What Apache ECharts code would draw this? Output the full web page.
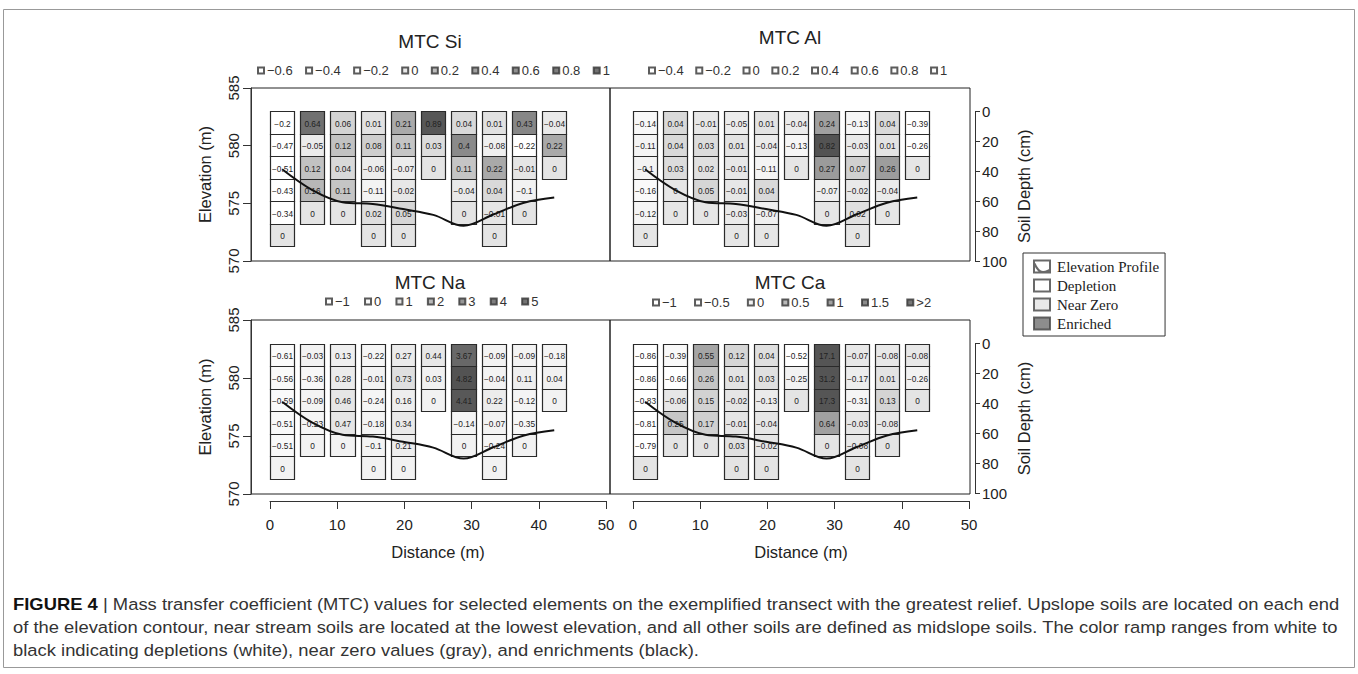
<!DOCTYPE html>
<html><head><meta charset="utf-8">
<script src="https://cdn.jsdelivr.net/npm/echarts@6/dist/echarts.min.js"></script>
<style>html,body{margin:0;padding:0;background:#fff}#c{width:1358px;height:674px}</style>
</head><body><div id="c"></div>
<script>
// ---------------- DATA ----------------
const distances = [1.8, 6.3, 10.8, 15.3, 19.8, 24.3, 28.8, 33.3, 37.8, 42.3];          // soil pit centres (m)
const elevation = [577.95, 576.15, 575.1, 574.95, 574.5, 574.0, 573.05, 574.05, 575.05, 575.5]; // m
const horizonTops = [0, 15, 30, 45, 60, 75];                                              // cm

const mtcSi = [
  [-0.2, -0.47, -0.51, -0.43, -0.34, 0],
  [0.64, -0.05, 0.12, 0.16, 0],
  [0.06, 0.12, 0.04, 0.11, 0],
  [0.01, 0.08, -0.06, -0.11, 0.02, 0],
  [0.21, 0.11, -0.07, -0.02, 0.05, 0],
  [0.89, 0.03, 0],
  [0.04, 0.4, 0.11, -0.04, 0],
  [0.01, -0.08, 0.22, 0.04, -0.01, 0],
  [0.43, -0.22, -0.01, -0.1, 0],
  [-0.04, 0.22, 0]
];
const mtcAl = [
  [-0.14, -0.11, -0.1, -0.16, -0.12, 0],
  [0.04, 0.04, 0.03, 0, 0],
  [-0.01, 0.03, 0.02, 0.05, 0],
  [-0.05, 0.01, -0.01, -0.01, -0.03, 0],
  [0.01, -0.04, -0.11, 0.04, -0.07, 0],
  [-0.04, -0.13, 0],
  [0.24, 0.82, 0.27, -0.07, 0],
  [-0.13, -0.03, 0.07, -0.02, 0.02, 0],
  [0.04, 0.01, 0.26, -0.04, 0],
  [-0.39, -0.26, 0]
];
const mtcNa = [
  [-0.61, -0.56, -0.59, -0.51, -0.51, 0],
  [-0.03, -0.36, -0.09, -0.23, 0],
  [0.13, 0.28, 0.46, 0.47, 0],
  [-0.22, -0.01, -0.24, -0.18, -0.1, 0],
  [0.27, 0.73, 0.16, 0.34, 0.21, 0],
  [0.44, 0.03, 0],
  [3.67, 4.82, 4.41, -0.14, 0],
  [-0.09, -0.04, 0.22, -0.07, -0.24, 0],
  [-0.09, 0.11, -0.12, -0.35, 0],
  [-0.18, 0.04, 0]
];
const mtcCa = [
  [-0.86, -0.86, -0.83, -0.81, -0.79, 0],
  [-0.39, -0.66, -0.06, 0.25, 0],
  [0.55, 0.26, 0.15, 0.17, 0],
  [0.12, 0.01, -0.02, -0.01, 0.03, 0],
  [0.04, 0.03, -0.13, -0.04, -0.02, 0],
  [-0.52, -0.25, 0],
  [17.1, 31.2, 17.3, 0.64, 0],
  [-0.07, -0.17, -0.31, -0.03, -0.08, 0],
  [-0.08, 0.01, 0.13, -0.08, 0],
  [-0.08, -0.26, 0]
];

const legendSi = ['\u22120.6', '\u22120.4', '\u22120.2', '0', '0.2', '0.4', '0.6', '0.8', '1'];
const legendAl = ['\u22120.4', '\u22120.2', '0', '0.2', '0.4', '0.6', '0.8', '1'];
const legendNa = ['\u22121', '0', '1', '2', '3', '4', '5'];
const legendCa = ['\u22121', '\u22120.5', '0', '0.5', '1', '1.5', '>2'];
const classLabels = ['Elevation Profile', 'Depletion', 'Near Zero', 'Enriched'];

const elevTicks = {min: 570, max: 585, interval: 5};
const depthTicks = {min: 0, max: 100, interval: 20};
const distTicks = {min: 0, max: 50, interval: 10};

const captionLines = [
  ['FIGURE 4', ' | Mass transfer coefficient (MTC) values for selected elements on the exemplified transect with the greatest relief. Upslope soils are located on each end'],
  ['', 'of the elevation contour, near stream soils are located at the lowest elevation, and all other soils are defined as midslope soils. The color ramp ranges from white to'],
  ['', 'black indicating depletions (white), near zero values (gray), and enrichments (black).']
];

// ---------------- STYLE / LAYOUT ----------------
const FONT = 'Liberation Sans, Arial, Helvetica, sans-serif';
const INK = '#222';
const CELL_HALF_WIDTH = 1.8;   // m
const HORIZON_THICKNESS = 15;  // cm

const panels = [
  {key: 'Si', title: 'MTC Si', values: mtcSi, tx: 430, ty: 32,
   grid: {left: 251, top: 88, width: 359, height: 173}, xr: [-2.83, 50.6], showElev: true,
   vmin: -0.2, vmax: 1.0, ramp: ['#ffffff','#e4e4e4','#acacac','#8a8a8a','#747474','#5e5e5e','#4e4e4e'],
   legend: legendSi, swatch: ['#fff','#fff','#fff','#e4e4e4','#acacac','#8a8a8a','#747474','#5e5e5e','#4e4e4e'],
   lg: {left: 257, top: 64, gap: 12.4}},
  {key: 'Al', title: 'MTC Al', values: mtcAl, tx: 790, ty: 28,
   grid: {left: 610, top: 88, width: 360, height: 173}, xr: [-3.42, 50.15], showElev: false,
   vmin: -0.2, vmax: 1.0, ramp: ['#ffffff','#e6e6e6','#a6a6a6','#888888','#6c6c6c','#555555','#444444'],
   legend: legendAl, swatch: ['#fff','#fff','#fcfcfc','#fcfcfc','#fcfcfc','#fcfcfc','#fcfcfc','#fcfcfc'],
   lg: {left: 648, top: 64, gap: 11.6}},
  {key: 'Na', title: 'MTC Na', values: mtcNa, tx: 430, ty: 273,
   grid: {left: 251, top: 320, width: 359, height: 174}, xr: [-2.83, 50.6], showElev: true,
   vmin: -1, vmax: 5, ramp: ['#ffffff','#f2f2f2','#d8d8d8','#a8a8a8','#7c7c7c','#5e5e5e','#505050'],
   legend: legendNa, swatch: ['#fff','#f7f7f7','#dedede','#a8a8a8','#7c7c7c','#5e5e5e','#505050'],
   lg: {left: 325, top: 295, gap: 14.2}},
  {key: 'Ca', title: 'MTC Ca', values: mtcCa, tx: 790, ty: 273,
   grid: {left: 610, top: 320, width: 360, height: 174}, xr: [-3.42, 50.15], showElev: false,
   vmin: -0.5, vmax: 2.0, ramp: ['#ffffff','#e4e4e4','#a8a8a8','#8a8a8a','#6e6e6e','#555555'],
   legend: legendCa, swatch: ['#fff','#fff','#eeeeee','#a8a8a8','#8a8a8a','#6e6e6e','#555555'],
   lg: {left: 652, top: 296, gap: 17.2}}
];

const fmt = v => (v < 0 ? '\u2212' : '') + String(Math.abs(v));
const axisLine = {show: true, onZero: false, lineStyle: {color: '#333', width: 1}};

const grids = [], xAxes = [], yAxes = [], series = [], visualMaps = [], legends = [], titles = [];

panels.forEach((p, i) => {
  grids.push(Object.assign({show: true, borderColor: '#222', borderWidth: 1, backgroundColor: 'transparent'}, p.grid));
  xAxes.push({gridIndex: i, type: 'value', min: p.xr[0], max: p.xr[1], show: false});
  yAxes.push({gridIndex: i, type: 'value', min: elevTicks.min, max: elevTicks.max, interval: elevTicks.interval,
    show: p.showElev, position: 'left', axisLine,
    axisTick: {show: true, length: 8, lineStyle: {color: '#333'}},
    axisLabel: {rotate: 90, margin: 10, fontSize: 15, color: INK, fontFamily: FONT},
    splitLine: {show: false},
    name: 'Elevation (m)', nameLocation: 'middle', nameGap: 38, nameRotate: 90,
    nameTextStyle: {fontSize: 16.5, color: INK, fontFamily: FONT}});
  yAxes.push({gridIndex: i, type: 'value', min: -15.7, max: 100, inverse: true, show: false});

  titles.push({text: p.title, left: p.tx, top: p.ty, textAlign: 'center', padding: 0,
    textStyle: {fontSize: 19, fontWeight: 'normal', color: INK, fontFamily: FONT}});

  // cells
  const data = [];
  p.values.forEach((col, c) => col.forEach((v, r) => {
    data.push([distances[c], horizonTops[r], v, Math.min(p.vmax, Math.max(p.vmin, v))]);
  }));
  const cellIdx = series.length;
  series.push({type: 'custom', coordinateSystem: 'cartesian2d', xAxisIndex: i, yAxisIndex: 2 * i + 1,
    silent: true, z: 2, data, encode: {x: 0, y: 1},
    renderItem: (params, api) => {
      const d = api.value(0), top = api.value(1), v = api.value(2);
      const p0 = api.coord([d - CELL_HALF_WIDTH, top]);
      const p1 = api.coord([d + CELL_HALF_WIDTH, top + HORIZON_THICKNESS]);
      const x = Math.round(p0[0]) + 0.5, y = Math.round(p0[1]) + 0.5;
      const w = Math.round(p1[0]) - Math.round(p0[0]), h = Math.round(p1[1]) - Math.round(p0[1]);
      return {type: 'group', children: [
        {type: 'rect', shape: {x, y, width: w, height: h},
         style: {fill: api.visual('color'), stroke: '#2a2a2a', lineWidth: 1.2}},
        {type: 'text', x: x + w / 2, y: y + h / 2 + 0.5,
         style: {text: fmt(v), align: 'center', verticalAlign: 'middle', fontSize: 8.3, fontFamily: FONT, fill: '#222'}}
      ]};
    }});
  visualMaps.push({type: 'continuous', show: false, seriesIndex: cellIdx, dimension: 3,
    min: p.vmin, max: p.vmax, inRange: {color: p.ramp}});

  // elevation profile
  series.push({type: 'line', name: 'profile-' + p.key, xAxisIndex: i, yAxisIndex: 2 * i, z: 5, silent: true,
    data: distances.map((d, k) => [d, elevation[k]]), smooth: 0.35, showSymbol: false, symbol: 'none',
    lineStyle: {color: '#111', width: 2}});

  // colour-ramp legend (dummy series)
  const names = p.legend.map(l => p.key + '|' + l);
  names.forEach((n, k) => series.push({type: 'scatter', name: n, data: [], xAxisIndex: i, yAxisIndex: 2 * i,
    itemStyle: {color: p.swatch[k], borderColor: '#333', borderWidth: 1}}));
  legends.push({data: names, left: p.lg.left, top: p.lg.top, orient: 'horizontal', padding: 0,
    itemWidth: 6, itemHeight: 6, itemGap: p.lg.gap, icon: 'rect', selectedMode: false,
    formatter: n => n.split('|')[1],
    textStyle: {fontSize: 13, color: '#333', fontFamily: FONT, padding: [0, 0, 0, -2]}});
});

// distance axes (bottom)
[[270, 4], [633, 5]].forEach(([left, gi]) => {
  grids.push({left, top: 500, width: 336, height: 1, show: false});
  xAxes.push({gridIndex: gi, type: 'value', min: distTicks.min, max: distTicks.max, interval: distTicks.interval,
    position: 'bottom', axisLine, axisTick: {show: true, length: 8, lineStyle: {color: '#333'}},
    axisLabel: {margin: 16, fontSize: 15, color: INK, fontFamily: FONT}, splitLine: {show: false},
    name: 'Distance (m)', nameLocation: 'middle', nameGap: 42,
    nameTextStyle: {fontSize: 16.5, color: INK, fontFamily: FONT}});
  yAxes.push({gridIndex: gi, type: 'value', show: false});
});
// soil depth axes (right)
[[111.5, 149.5, 6], [343.5, 150, 7]].forEach(([top, height, gi]) => {
  grids.push({left: 970, top, width: 5, height, show: false});
  xAxes.push({gridIndex: gi, type: 'value', show: false});
  yAxes.push({gridIndex: gi, type: 'value', position: 'right', min: depthTicks.min, max: depthTicks.max,
    interval: depthTicks.interval, inverse: true, axisLine,
    axisTick: {show: true, length: 5, lineStyle: {color: '#333'}},
    axisLabel: {margin: 7, fontSize: 15, color: INK, fontFamily: FONT}, splitLine: {show: false},
    name: 'Soil Depth (cm)', nameLocation: 'middle', nameGap: 40, nameRotate: 90,
    nameTextStyle: {fontSize: 16.5, color: INK, fontFamily: FONT}});
});

// class legend (dummy series)
const classColors = ['#ffffff', '#ffffff', '#e4e4e4', '#707070'];
classLabels.forEach((n, k) => series.push({type: 'scatter', name: n, data: [], xAxisIndex: 0, yAxisIndex: 0,
  itemStyle: {color: classColors[k], borderColor: '#444', borderWidth: 1}}));
legends.push({
  data: classLabels.map((n, k) => ({name: n,
    icon: k === 0 ? 'path://M0,0 L16,0 L16,12 L0,12 Z M0.5,3 C3,9 6,11.5 9,11.5 C12,11.5 14,10 15.5,9.5' : 'rect'})),
  left: 1023, top: 253, orient: 'vertical', padding: [6, 6, 5, 10], itemGap: 4,
  itemWidth: 16, itemHeight: 12, selectedMode: false, borderColor: '#333', borderWidth: 1,
  textStyle: {fontSize: 15, color: INK, fontFamily: 'Liberation Serif, Times New Roman, serif', padding: [0, 0, 0, 2]}
});

// caption: stretch horizontally to the width of the reference block
const CAP_SIZE = 16.5;
const ctx = document.createElement('canvas').getContext('2d');
ctx.font = CAP_SIZE + 'px Liberation Sans';
const capScale = 1325 / ctx.measureText(captionLines[1][1]).width;
const captionGraphics = captionLines.map((ln, k) => ({
  type: 'text', x: 13, y: 604 + 23 * k, scaleX: capScale, silent: true,
  style: {
    text: (ln[0] ? '{b|' + ln[0] + '}' : '') + ln[1],
    rich: {b: {fontWeight: 'bold', fontSize: CAP_SIZE, fontFamily: FONT, fill: '#111'}},
    fontSize: CAP_SIZE, fontFamily: FONT, fill: '#333', verticalAlign: 'middle'}
}));

const option = {
  animation: false,
  backgroundColor: '#fff',
  title: titles,
  grid: grids, xAxis: xAxes, yAxis: yAxes,
  visualMap: visualMaps,
  legend: legends,
  series,
  graphic: [
    {type: 'rect', silent: true, shape: {x: 3.5, y: 9.5, width: 1351, height: 658},
     style: {fill: 'none', stroke: '#999', lineWidth: 1}}
  ].concat(captionGraphics)
};

const chart = echarts.init(document.getElementById('c'), null, {renderer: 'svg'});
chart.setOption(option);
</script>
</body></html>
